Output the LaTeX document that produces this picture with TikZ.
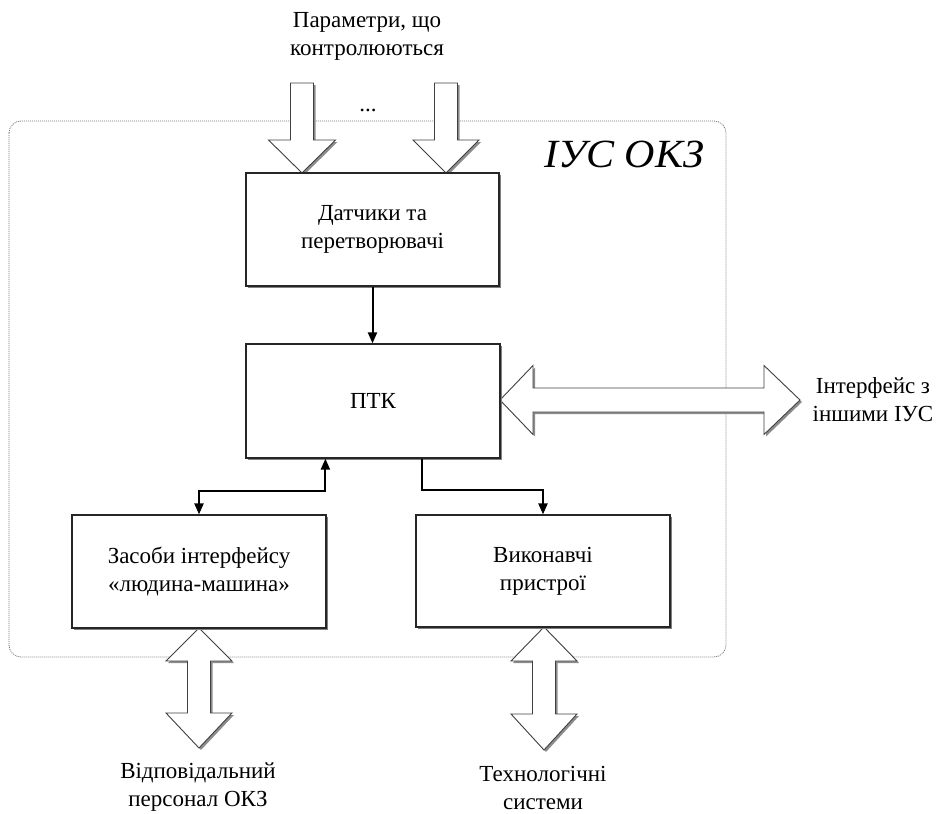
\documentclass[tikz,border=0pt]{standalone}
\usepackage{fontspec}
\setmainfont{LiberationSerif}[Extension=.ttf, UprightFont=*-Regular, ItalicFont=*-Italic, BoldFont=*-Bold, BoldItalicFont=*-BoldItalic]
\usetikzlibrary{arrows.meta,calc,shadows}

\newcommand{\blkdownpath}[7]{%
\path[#7] ({#1-#5},#2) -- ({#1+#5},#2) -- ({#1+#5},#3) -- ({#1+#6},#3) -- (#1,#4) -- ({#1-#6},#3) -- ({#1-#5},#3) -- cycle;}
\newcommand{\blkdown}[6]{\blkdownpath{#1}{#2}{#3}{#4}{#5}{#6}{blkshadow,shift={(2,2)}}\blkdownpath{#1}{#2}{#3}{#4}{#5}{#6}{blk}}
\newcommand{\blkvdpath}[8]{%
\path[#8] (#1,#2) -- ({#1+#7},#3) -- ({#1+#6},#3) -- ({#1+#6},#4) -- ({#1+#7},#4) -- (#1,#5) -- ({#1-#7},#4) -- ({#1-#6},#4) -- ({#1-#6},#3) -- ({#1-#7},#3) -- cycle;}
\newcommand{\blkvd}[7]{\blkvdpath{#1}{#2}{#3}{#4}{#5}{#6}{#7}{blkshadow,shift={(2,2)}}\blkvdpath{#1}{#2}{#3}{#4}{#5}{#6}{#7}{blk}}
\newcommand{\blkhdpath}[8]{%
\path[#8] (#2,#1) -- (#3,{#1-#7}) -- (#3,{#1-#6}) -- (#4,{#1-#6}) -- (#4,{#1-#7}) -- (#5,#1) -- (#4,{#1+#7}) -- (#4,{#1+#6}) -- (#3,{#1+#6}) -- (#3,{#1+#7}) -- cycle;}
\newcommand{\blkhd}[7]{\blkhdpath{#1}{#2}{#3}{#4}{#5}{#6}{#7}{blkshadow,shift={(2,2)}}\blkhdpath{#1}{#2}{#3}{#4}{#5}{#6}{#7}{blk}}

\begin{document}
\begin{tikzpicture}[x=1pt,y=-1pt,
  box/.style={draw=black!85, line width=1.2pt, fill=white, minimum width=254pt, minimum height=113pt,
    inner sep=0pt, align=center, font=\fontsize{23}{28}\selectfont,
    drop shadow={shadow xshift=2pt, shadow yshift=-2pt, fill=black!50, opacity=1}},
  lbl/.style={align=center, font=\fontsize{23}{28}\selectfont, inner sep=0pt},
  conn/.style={line width=2pt, -{Triangle[length=11pt,width=9pt]}},
  conntwo/.style={line width=2pt, {Triangle[length=11pt,width=9pt]}-{Triangle[length=11pt,width=9pt]}},
  blk/.style={draw=black!75, line width=0.9pt, fill=white, line join=miter},
  blkshadow/.style={fill=black!45, draw=none},
  frame/.style={draw=black!55, line width=0.8pt, dash pattern=on 1pt off 1pt, rounded corners=12pt}
]
\useasboundingbox (0,0) rectangle (946,814);

% outer dotted frame
\draw[frame] (9,121) rectangle (726,657);
\node[font=\fontsize{40}{46}\selectfont\itshape, inner sep=0pt] (ius) at (624,154) {\scalebox{1.05}[1]{ІУС ОКЗ}};

% block arrows
\blkdown{302}{83}{140}{173}{11.5}{33.5}
\blkdown{446}{83}{140}{173}{11.5}{33}
\blkhd{400}{500}{533}{764}{800}{12}{34.5}
\blkvd{199}{628}{661}{713}{748}{11.5}{33}
\blkvd{544}{627}{661}{714}{750}{11.5}{33}

% labels
\node[lbl] (params) at (367,36) {Параметри, що\\контролюються};
\node[lbl] (dots) at (368,110) {...};
\node[lbl] (iface) at (873,400) {Інтерфейс з\\іншими ІУС};
\node[lbl] (pers) at (198,787) {Відповідальний\\персонал ОКЗ};
\node[lbl] (tech) at (543,788) {Технологічні\\системи};

% boxes
\node[box, minimum width=253pt] (sens) at (372.5,229.5) {Датчики та\\перетворювачі};
\node[box, minimum height=114pt] (ptk) at (373,401) {ПТК};
\node[box] (hmi) at (199,571.5) {Засоби інтерфейсу\\«людина-машина»};
\node[box, minimum height=112pt] (act) at (543,571) {Виконавчі\\пристрої};

% connectors
\draw[conn] (sens.south) -- (sens.south |- ptk.north);
\draw[conntwo] ($(ptk.south west)+(80,0)$) -- ++(0,32) -| (hmi.north);
\draw[conn] ($(ptk.south west)+(177,0)$) -- ++(0,31) -| (act.north);
\end{tikzpicture}
\end{document}
